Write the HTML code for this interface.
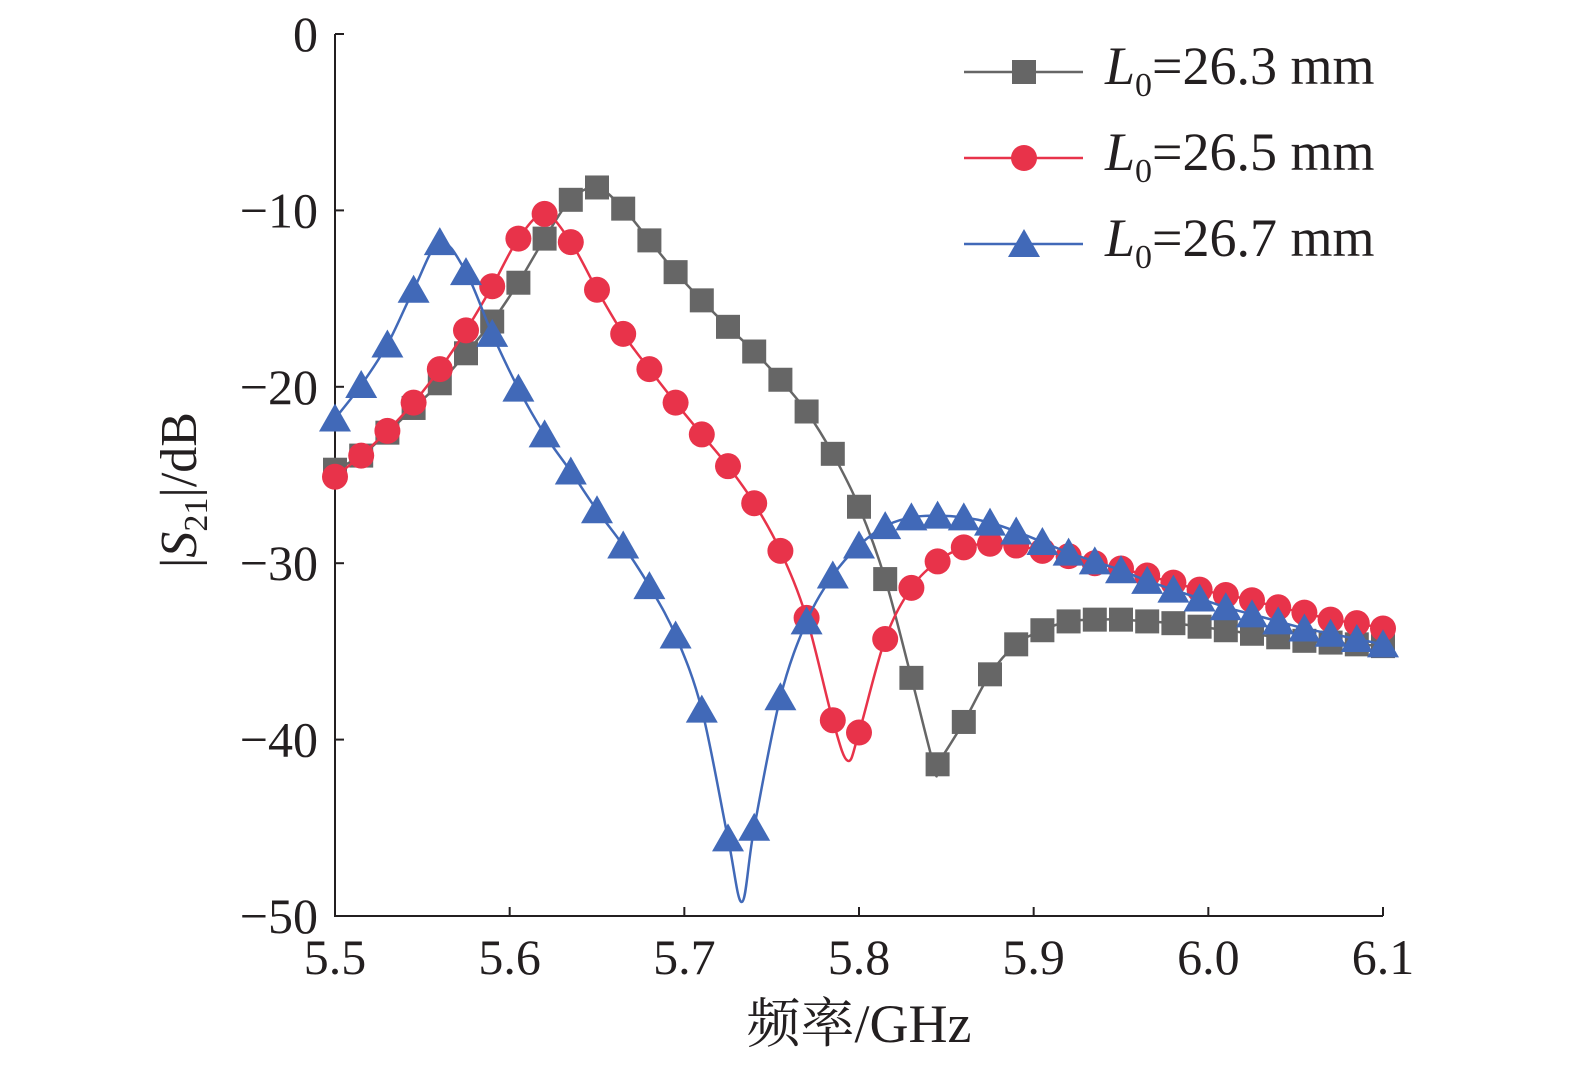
<!DOCTYPE html>
<html><head><meta charset="utf-8"><style>
html,body{margin:0;padding:0;background:#fff;overflow:hidden;}
svg text{font-family:"Liberation Serif","Noto Serif CJK SC",serif;fill:#231f20;}
</style></head><body>
<svg id="chart" width="1575" height="1069" xmlns="http://www.w3.org/2000/svg">
<g id="axes"></g>
<g id="series"></g>
<g id="legend"></g>
</svg>
<script>
const freqs = [5.5,5.515,5.53,5.545,5.56,5.575,5.59,5.605,5.62,5.635,5.65,5.665,5.68,5.695,5.71,5.725,5.74,5.755,5.77,5.785,5.8,5.815,5.83,5.845,5.86,5.875,5.89,5.905,5.92,5.935,5.95,5.965,5.98,5.995,6.01,6.025,6.04,6.055,6.07,6.085,6.1];
const gray = [-24.7,-23.9,-22.6,-21.2,-19.8,-18.1,-16.3,-14.1,-11.6,-9.4,-8.7,-9.9,-11.7,-13.5,-15.1,-16.6,-18.0,-19.6,-21.4,-23.8,-26.8,-30.9,-36.5,-41.4,-39.0,-36.3,-34.6,-33.8,-33.3,-33.2,-33.2,-33.3,-33.4,-33.6,-33.8,-34.0,-34.2,-34.4,-34.5,-34.6,-34.7];
const red = [-25.1,-23.9,-22.5,-20.9,-19.0,-16.8,-14.3,-11.6,-10.2,-11.8,-14.5,-17.0,-19.0,-20.9,-22.7,-24.5,-26.6,-29.3,-33.1,-38.9,-39.6,-34.3,-31.4,-29.9,-29.1,-28.9,-29.0,-29.3,-29.6,-30.0,-30.3,-30.7,-31.1,-31.5,-31.8,-32.1,-32.5,-32.8,-33.2,-33.4,-33.7];
const blue = [-21.8,-19.9,-17.6,-14.5,-11.8,-13.5,-17.0,-20.1,-22.7,-24.8,-27.0,-29.0,-31.3,-34.1,-38.3,-45.6,-45.0,-37.6,-33.3,-30.7,-29.0,-27.9,-27.4,-27.3,-27.4,-27.7,-28.2,-28.8,-29.4,-29.9,-30.4,-31.0,-31.5,-32.0,-32.5,-32.9,-33.3,-33.7,-34.0,-34.3,-34.6];
const grayDip = [5.8435,-41.7];
const redDip = [5.7935,-41.2];
const blueDip = [5.733,-49.2];
const xTicks = [5.5,5.6,5.7,5.8,5.9,6.0,6.1];
const xTickLabels = ["5.5","5.6","5.7","5.8","5.9","6.0","6.1"];
const yTicks = [0,-10,-20,-30,-40,-50];
const yTickLabels = ["0","\u221210","\u221220","\u221230","\u221240","\u221250"];
const legendLabels = ["26.3 mm","26.5 mm","26.7 mm"];

const NS="http://www.w3.org/2000/svg";
const X0=335,X1=1383,Y0=34,Y1=916;
const sx=v=>X0+(v-5.5)/0.6*(X1-X0);
const sy=v=>Y0+(0-v)/50*(Y1-Y0);
function mk(tag,attrs,parent){const e=document.createElementNS(NS,tag);for(const k in attrs)e.setAttribute(k,attrs[k]);parent.appendChild(e);return e;}
function ts(parent,text,attrs){const t=mk('tspan',attrs||{},parent);t.textContent=text;return t;}
const axes=document.getElementById('axes');
let e=mk('path',{d:`M${X0},${Y0}V${Y1}H${X1}`,stroke:'#231f20','stroke-width':2,fill:'none'},axes);


xTicks.forEach((t,i)=>{
 let l=mk('line',{x1:sx(t),x2:sx(t),y1:Y1,y2:Y1-9,stroke:'#231f20','stroke-width':2},axes);
 
 
 let tx=mk('text',{x:sx(t),y:974,'font-size':50,'text-anchor':'middle'},axes);tx.textContent=xTickLabels[i];
 
 
});
yTicks.forEach((t,i)=>{
 let l=mk('line',{x1:X0,x2:X0+9,y1:sy(t),y2:sy(t),stroke:'#231f20','stroke-width':2},axes);
 
 
 let tx=mk('text',{x:318,y:sy(t)+17,'font-size':50,'text-anchor':'end'},axes);tx.textContent=yTickLabels[i];
 
 
});
let xt=mk('text',{x:859,y:1042,'font-size':54,'text-anchor':'middle'},axes);xt.textContent='频率/GHz';


let yt=mk('text',{transform:'translate(196,490) rotate(-90)','font-size':52,'text-anchor':'middle'},axes);
ts(yt,'|');ts(yt,'S',{'font-style':'italic'});ts(yt,'21',{'font-size':34,dy:11});ts(yt,'|/dB',{dy:-11});



function spline(pts){
 let d=`M${pts[0][0]},${pts[0][1]}`;
 for(let i=0;i<pts.length-1;i++){
  const p0=pts[i-1]||pts[i],p1=pts[i],p2=pts[i+1],p3=pts[i+2]||p2;
  const c1=[p1[0]+(p2[0]-p0[0])/6,p1[1]+(p2[1]-p0[1])/6];
  const c2=[p2[0]-(p3[0]-p1[0])/6,p2[1]-(p3[1]-p1[1])/6];
  d+=`C${c1[0]},${c1[1]} ${c2[0]},${c2[1]} ${p2[0]},${p2[1]}`;
 }
 return d;
}
function marker(type,x,y,color,parent){
 if(type==='sq') return mk('rect',{x:x-12,y:y-12,width:24,height:24,fill:color},parent);
 if(type==='ci') return mk('circle',{cx:x,cy:y,r:13,fill:color},parent);
 return mk('polygon',{points:`${x},${y-15} ${x+16},${y+13} ${x-16},${y+13}`,fill:color},parent);
}
const seriesDefs=[[gray,grayDip,'#666666','sq','gray'],[red,redDip,'#e8334a','ci','red'],[blue,blueDip,'#4169b8','tr','blue']];
const sg=document.getElementById('series');
seriesDefs.forEach(([vals,dip,color,type,nm])=>{
 const g=mk('g',{},sg);
 
 
 let pts=freqs.map((f,i)=>[f,vals[i]]);pts.push(dip);pts.sort((a,b)=>a[0]-b[0]);
 const p=mk('path',{d:spline(pts.map(q=>[sx(q[0]),sy(q[1])])),stroke:color,'stroke-width':2.5,fill:'none'},g);
 
 
 freqs.forEach((f,i)=>{
  const m=marker(type,sx(f),sy(vals[i]),color,g);
  
  
 });
});
const lg=document.getElementById('legend');
seriesDefs.forEach(([v,d,color,type,nm],i)=>{
 const y=72+i*86;
 const g=mk('g',{},lg);
 
 
 mk('line',{x1:964,x2:1083,y1:y,y2:y,stroke:color,'stroke-width':2.5},g);
 marker(type,1024,y,color,g);
 const t=mk('text',{x:1105,y:y+12,'font-size':54},g);
 ts(t,'L',{'font-style':'italic'});ts(t,'0',{'font-size':34,dy:12});ts(t,'='+legendLabels[i],{dy:-12});
});
</script>
</body></html>
